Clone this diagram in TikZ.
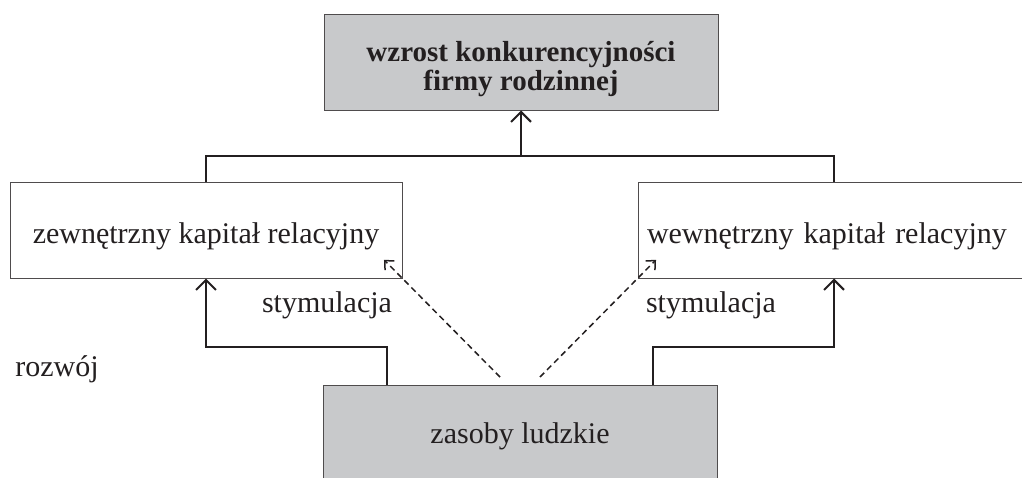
\documentclass[tikz,border=0pt]{standalone}
\usepackage{fontspec}
\setmainfont{Liberation Serif}
\usetikzlibrary{arrows.meta,calc}
\definecolor{boxgray}{RGB}{200,201,203}
\definecolor{ink}{RGB}{35,31,32}
\begin{document}
\begin{tikzpicture}[x=1pt,y=-1pt,
  box/.style={draw=ink!80,line width=1pt,inner sep=0pt,minimum height=96pt,align=center,font=\fontsize{30}{30}\selectfont,text=ink},
  graybox/.style={box,fill=boxgray},
  conn/.style={draw=ink,line width=2pt},
  arr/.style={conn,-{Straight Barb[length=10pt,width=20pt,line width=2pt]}},
  darr/.style={draw=ink,line width=1.5pt,dash pattern=on 6pt off 4pt,-{Straight Barb[length=7pt,width=13pt,line width=1.5pt]}},
  lbl/.style={font=\fontsize{30}{30}\selectfont,text=ink,inner sep=0pt}]
\useasboundingbox (0,0) rectangle (1022,477);
\node[graybox,minimum width=394pt] (top) at (521,62) {};
\node[lbl,align=center,font=\bfseries\fontsize{29}{28.5}\selectfont] (toptext) at (521,69) {wzrost konkurencyjności\\firmy rodzinnej};
\node[box,minimum width=392pt,text height=26pt,text depth=0pt] (left) at (206,230) {zewnętrzny kapitał relacyjny};
\node[box,minimum width=392pt,text width=374pt,align=left,text height=26pt,text depth=0pt] (right) at (834,230) {wewnętrzny kapitał relacyjny};
\node[graybox,minimum width=394pt,minimum height=100pt,text height=16pt,text depth=0pt] (bot) at (520,435) {zasoby ludzkie};
\coordinate (j) at (top.south |- 0,156);
\draw[conn] (left.north) |- (j) -| (right.north);
\draw[arr] (j) -- (top.south);
\coordinate (bl) at ($(bot.north west)+(64,0)$);
\coordinate (br) at ($(bot.north west)+(330,0)$);
\draw[arr] (bl) -- ++(0,-38) -| (left.south);
\draw[arr] (br) -- ++(0,-38) -| (right.south);
\coordinate (dl) at (500,377);
\coordinate (dr) at (540,377);
\draw[darr] (dl) -- ($(dl)!1.19!(left.south east)$);
\draw[darr] (dr) -- ($(dr)!1.19!(right.south west)$);
\node[lbl,anchor=base] (s1) at (327,312) {stymulacja};
\node[lbl,anchor=base] (s2) at (711,312) {stymulacja};
\node[lbl,anchor=base] (rz) at (57,376) {rozwój};
\end{tikzpicture}
\end{document}
